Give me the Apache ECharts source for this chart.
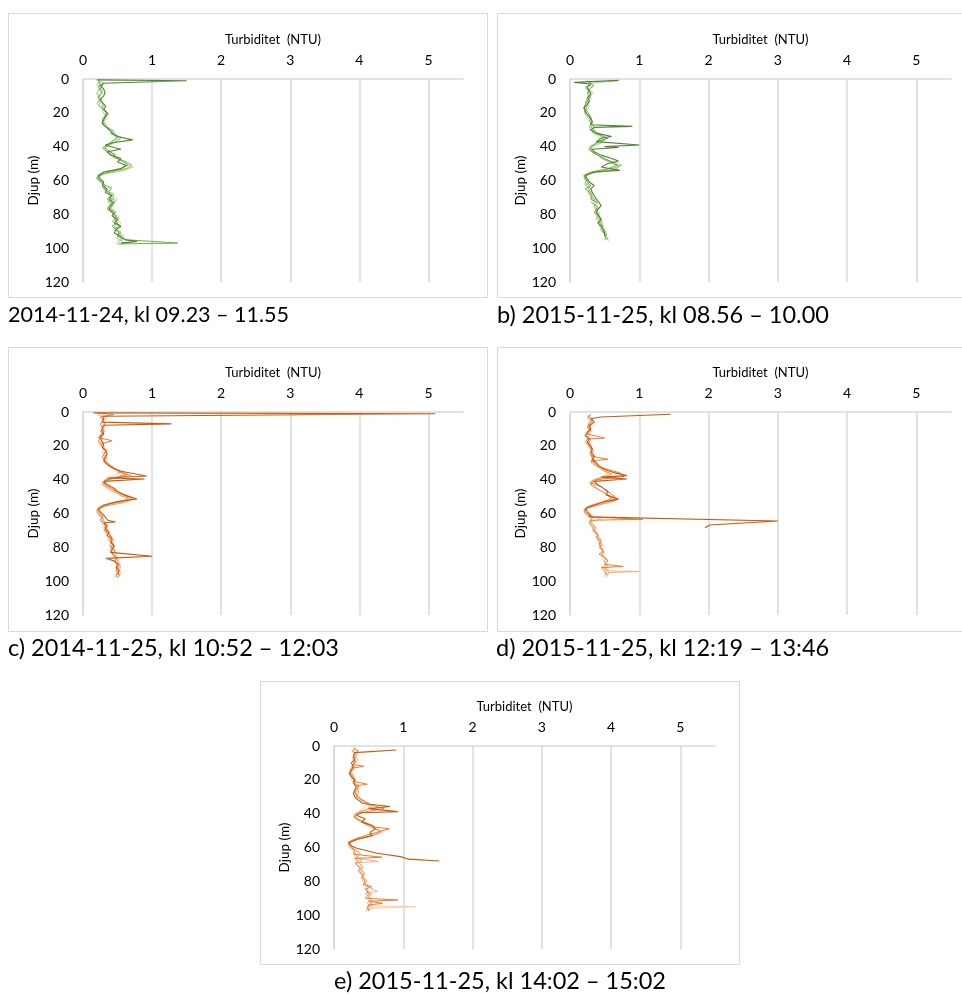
<!DOCTYPE html>
<html>
<head>
<meta charset="utf-8">
<script src="https://cdn.jsdelivr.net/npm/echarts@6/dist/echarts.min.js"></script>
<style>
  html, body { margin: 0; padding: 0; background: #fff; }
  #chart { width: 962px; height: 994px; }
</style>
</head>
<body>
<div id="chart"></div>
<script>
// ---- Data: [turbidity NTU, depth m] per profile ----
// Panel a) 2014-11-24 (green)
const a1 = [[0.2,0.5],[1.5,1],[0.3,2.5],[0.25,4],[0.3,6],[0.32,8],[0.3,10],[0.25,12],[0.28,14],[0.33,16],[0.3,18],[0.35,20],[0.32,22],[0.3,24],[0.28,26],[0.32,28],[0.38,30],[0.42,32],[0.5,34],[0.72,36],[0.45,37.5],[0.32,39],[0.45,40.5],[0.55,41.5],[0.35,43],[0.4,45],[0.55,47],[0.5,49],[0.62,51],[0.55,53],[0.3,55],[0.22,57],[0.25,59],[0.3,61],[0.28,63],[0.35,65],[0.32,67],[0.42,69],[0.38,71],[0.45,73],[0.4,75],[0.38,77],[0.45,79],[0.42,81],[0.5,83],[0.45,85],[0.55,87],[0.48,89],[0.45,91],[0.55,93],[0.6,95],[0.78,96],[0.55,97]];
const a2 = [[0.22,1],[0.25,3],[0.22,5],[0.28,7],[0.25,9],[0.22,11],[0.26,13],[0.3,15],[0.27,17],[0.33,19],[0.36,21],[0.3,23],[0.28,25],[0.3,27],[0.35,29],[0.4,31],[0.45,33],[0.5,35],[0.42,37],[0.35,39],[0.32,41],[0.4,43],[0.45,45],[0.5,47],[0.6,49],[0.65,51],[0.55,53],[0.35,55],[0.25,57],[0.22,59],[0.28,61],[0.32,63],[0.3,65],[0.38,67],[0.4,69],[0.35,71],[0.42,73],[0.38,75],[0.35,77],[0.42,79],[0.48,81],[0.45,83],[0.5,85],[0.42,87],[0.48,89],[0.52,91],[0.5,93],[0.62,95],[1.37,97],[0.5,97.5]];
const a3 = [[0.25,1.5],[0.2,3],[0.24,5],[0.22,7],[0.2,9],[0.25,11],[0.22,13],[0.27,15],[0.3,17],[0.28,19],[0.32,21],[0.35,23],[0.3,25],[0.32,27],[0.38,29],[0.42,31],[0.48,33],[0.55,35],[0.48,37],[0.38,39],[0.3,41],[0.35,43],[0.42,45],[0.5,47],[0.58,49],[0.72,52],[0.6,54],[0.32,56],[0.2,58],[0.22,60],[0.3,62],[0.28,64],[0.35,66],[0.45,68],[0.38,70],[0.48,72],[0.42,74],[0.35,76],[0.4,78],[0.45,80],[0.5,82],[0.42,84],[0.48,86],[0.45,88],[0.52,90],[0.55,92],[0.48,94],[0.58,96],[0.55,98]];
const a4 = [[0.2,2],[0.28,4],[0.25,6],[0.2,8],[0.23,10],[0.27,12],[0.25,14],[0.22,16],[0.3,18],[0.33,20],[0.3,22],[0.27,24],[0.33,26],[0.35,28],[0.4,30],[0.47,32],[0.52,34],[0.45,36],[0.38,38],[0.33,40],[0.3,42],[0.38,44],[0.45,46],[0.55,48],[0.62,50],[0.68,52],[0.58,54],[0.38,55.5],[0.22,57],[0.2,59],[0.25,61],[0.33,63],[0.4,65],[0.35,67],[0.45,69],[0.5,71],[0.4,73],[0.45,75],[0.38,77],[0.42,79],[0.52,81],[0.48,83],[0.55,85],[0.5,87],[0.45,89],[0.5,91],[0.6,93],[0.52,95],[0.48,97]];
const a5 = [[0.23,1],[0.3,2.5],[0.27,4.5],[0.24,6.5],[0.28,8.5],[0.22,10.5],[0.25,12.5],[0.2,14.5],[0.26,16.5],[0.3,18.5],[0.37,20.5],[0.33,22.5],[0.29,24.5],[0.27,26.5],[0.34,28.5],[0.44,30.5],[0.4,32.5],[0.55,34.5],[0.5,36.5],[0.4,38.5],[0.28,40.5],[0.33,42.5],[0.47,44.5],[0.44,46.5],[0.6,48.5],[0.7,50.5],[0.66,52.5],[0.45,54.5],[0.25,56.5],[0.19,58.5],[0.27,60.5],[0.3,62.5],[0.42,64.5],[0.37,66.5],[0.41,68.5],[0.45,70.5],[0.36,72.5],[0.43,74.5],[0.4,76.5],[0.48,78.5],[0.44,80.5],[0.52,82.5],[0.48,84.5],[0.53,86.5],[0.46,88.5],[0.55,90.5],[0.5,92.5],[0.56,94.5],[0.52,96.5]];

// Panel b) 2015-11-25 08.56 (green)
const b1 = [[0.7,0.8],[0.06,2],[0.3,3],[0.25,5],[0.28,7],[0.3,9],[0.25,11],[0.28,13],[0.25,15],[0.2,17],[0.22,19],[0.25,21],[0.3,23],[0.32,25],[0.3,27],[0.9,28],[0.35,28.6],[0.3,30],[0.38,32],[0.6,34],[0.45,35],[0.38,37],[1.0,39],[0.5,40],[0.7,40.5],[0.32,41.5],[0.35,43],[0.45,45],[0.6,47],[0.7,48.5],[0.55,50],[0.45,52],[0.72,54],[0.35,55],[0.22,57],[0.25,59],[0.28,61],[0.35,63],[0.3,65],[0.32,67],[0.35,69],[0.38,71],[0.42,73],[0.45,75],[0.4,77],[0.38,79],[0.42,81],[0.45,83],[0.4,85],[0.45,87],[0.48,89],[0.5,91],[0.5,93]];
const b2 = [[0.25,1],[0.3,3],[0.22,5],[0.27,7],[0.25,9],[0.3,11],[0.25,13],[0.22,15],[0.2,17],[0.25,19],[0.28,21],[0.3,23],[0.28,25],[0.32,27],[0.35,29],[0.32,31],[0.42,33],[0.55,35],[0.4,37],[0.35,39],[0.3,41],[0.32,43],[0.4,45],[0.5,47],[0.6,49],[0.68,51],[0.55,53],[0.3,55],[0.2,57],[0.22,59],[0.25,61],[0.3,63],[0.22,65],[0.28,67],[0.32,69],[0.3,71],[0.4,73],[0.35,75],[0.38,77],[0.35,79],[0.4,81],[0.45,83],[0.42,85],[0.48,87],[0.44,89],[0.5,91],[0.52,93],[0.5,95]];
const b3 = [[0.7,1],[0.3,2.5],[0.35,4],[0.28,6],[0.32,8],[0.27,10],[0.24,12],[0.28,14],[0.22,16],[0.25,18],[0.2,20],[0.24,22],[0.27,24],[0.3,26],[0.28,28],[0.3,30],[0.35,32],[0.45,34],[0.5,36],[0.42,38],[0.3,40],[0.28,42],[0.35,44],[0.45,46],[0.55,48],[0.75,51],[0.6,53],[0.35,55],[0.25,57],[0.2,59],[0.28,61],[0.22,63],[0.3,65],[0.25,67],[0.3,69],[0.35,71],[0.3,73],[0.38,75],[0.42,77],[0.35,79],[0.42,81],[0.38,83],[0.45,85],[0.42,87],[0.5,89],[0.48,91],[0.52,93],[0.55,95]];
const b4 = [[0.3,2],[0.32,4],[0.27,6],[0.33,8],[0.3,10],[0.26,12],[0.25,14],[0.28,16],[0.24,18],[0.22,20],[0.27,22],[0.3,24],[0.33,26],[0.3,28],[0.28,30],[0.33,32],[0.4,34],[0.48,36],[0.45,38],[0.32,40],[0.3,42],[0.38,44],[0.42,46],[0.52,48],[0.62,50],[0.7,52],[0.58,54],[0.28,56],[0.22,58],[0.25,60],[0.2,62],[0.27,64],[0.3,66],[0.28,68],[0.33,70],[0.38,72],[0.35,74],[0.4,76],[0.36,78],[0.44,80],[0.4,82],[0.47,84],[0.43,86],[0.5,88],[0.46,90],[0.5,92],[0.55,94],[0.5,95.5]];
const b5 = [[0.28,1.5],[0.33,3.5],[0.3,5.5],[0.25,7.5],[0.3,9.5],[0.28,11.5],[0.22,13.5],[0.26,15.5],[0.23,17.5],[0.21,19.5],[0.26,21.5],[0.29,23.5],[0.33,25.5],[0.29,27.5],[0.33,29.5],[0.38,31.5],[0.48,33.5],[0.52,35.5],[0.4,37.5],[0.3,39.5],[0.27,41.5],[0.33,43.5],[0.42,45.5],[0.48,47.5],[0.6,49.5],[0.72,51.5],[0.65,53.5],[0.32,55.5],[0.2,57.5],[0.24,59.5],[0.22,61.5],[0.29,63.5],[0.26,65.5],[0.31,67.5],[0.29,69.5],[0.36,71.5],[0.33,73.5],[0.4,75.5],[0.37,77.5],[0.42,79.5],[0.38,81.5],[0.44,83.5],[0.47,85.5],[0.45,87.5],[0.5,89.5],[0.53,91.5],[0.51,93.5],[0.56,95.5]];

// Panel c) 2014-11-25 (orange)
const c1 = [[0.15,0.5],[5.1,1],[0.3,2.5],[0.3,4],[0.28,6],[1.28,7],[0.3,7.8],[0.28,9],[0.27,11],[0.3,13],[0.25,15],[0.27,17],[0.3,19],[0.28,21],[0.33,23],[0.35,25],[0.32,27],[0.3,29],[0.35,31],[0.42,33],[0.55,35],[0.92,37.8],[0.35,39],[0.89,39.6],[0.3,41],[0.35,43],[0.45,45],[0.5,47],[0.6,49],[0.78,51.4],[0.5,53],[0.3,55],[0.22,57],[0.25,59],[0.3,61],[0.36,64],[0.47,65],[0.3,65.5],[0.35,67],[0.32,69],[0.38,71],[0.35,73],[0.42,75],[0.4,77],[0.45,79],[0.42,81],[0.4,83],[1.0,85.3],[0.33,86.5],[0.45,88],[0.5,90],[0.48,92],[0.52,94],[0.5,96]];
const c2 = [[0.2,0.5],[0.45,1.5],[0.25,3],[0.3,5],[0.25,7],[0.28,9],[0.3,11],[0.27,13],[0.22,15],[0.42,17],[0.25,19],[0.3,21],[0.33,23],[0.3,25],[0.28,27],[0.32,29],[0.38,31],[0.45,33],[0.52,35],[0.65,37],[0.5,38.5],[0.32,40],[0.3,42],[0.38,44],[0.45,46],[0.55,48],[0.65,50],[0.62,52],[0.4,54],[0.28,56],[0.2,58],[0.22,60],[0.28,62],[0.25,64],[0.3,66],[0.35,68],[0.3,70],[0.38,72],[0.42,74],[0.38,76],[0.44,78],[0.4,80],[0.47,82],[0.42,84],[0.5,86],[0.46,88],[0.52,90],[0.5,92],[0.48,94],[0.53,96],[0.5,98]];
const c3 = [[0.25,1],[0.35,3],[0.3,5],[0.32,7],[0.3,9],[0.25,11],[0.28,13],[0.26,15],[0.23,17],[0.27,19],[0.32,21],[0.35,23],[0.3,25],[0.35,27],[0.3,29],[0.35,31],[0.42,33],[0.55,35],[0.6,37],[0.45,39],[0.3,41],[0.28,43],[0.35,45],[0.42,47],[0.58,49],[0.7,51],[0.55,53],[0.35,55],[0.22,57],[0.25,59],[0.24,61],[0.3,63],[0.28,65],[0.33,67],[0.3,69],[0.35,71],[0.4,73],[0.35,75],[0.42,77],[0.38,79],[0.45,81],[0.4,83],[0.45,85],[0.52,87],[0.48,89],[0.55,91],[0.5,93],[0.55,95],[0.48,97]];
const c4 = [[0.3,2],[0.28,4],[0.32,6],[0.28,8],[0.3,10],[0.27,12],[0.25,14],[0.28,16],[0.25,18],[0.28,20],[0.3,22],[0.28,24],[0.32,26],[0.35,28],[0.32,30],[0.4,32],[0.48,34],[0.55,36],[0.42,38],[0.35,40],[0.3,42],[0.33,44],[0.4,46],[0.5,48],[0.62,50],[0.68,52],[0.5,54],[0.3,56],[0.25,58],[0.2,60],[0.26,62],[0.3,64],[0.27,66],[0.3,68],[0.35,70],[0.32,72],[0.38,74],[0.45,76],[0.4,78],[0.42,80],[0.38,82],[0.45,84],[0.48,86],[0.45,88],[0.5,90],[0.55,92],[0.5,94],[0.47,96],[0.5,98]];
const c5 = [[0.22,1.5],[0.3,3.5],[0.27,5.5],[0.33,7.5],[0.28,9.5],[0.31,11.5],[0.26,13.5],[0.24,15.5],[0.22,17.5],[0.26,19.5],[0.29,21.5],[0.34,23.5],[0.33,25.5],[0.3,27.5],[0.33,29.5],[0.37,31.5],[0.45,33.5],[0.5,35.5],[0.7,37.5],[0.42,39.5],[0.28,41.5],[0.32,43.5],[0.42,45.5],[0.48,47.5],[0.55,49.5],[0.73,51.5],[0.6,53.5],[0.33,55.5],[0.21,57.5],[0.24,59.5],[0.29,61.5],[0.27,63.5],[0.33,65.5],[0.31,67.5],[0.36,69.5],[0.34,71.5],[0.4,73.5],[0.44,75.5],[0.41,77.5],[0.46,79.5],[0.43,81.5],[0.48,83.5],[0.44,85.5],[0.49,87.5],[0.53,89.5],[0.5,91.5],[0.54,93.5],[0.49,95.5],[0.47,97.5]];

// Panel d) 2015-11-25 12:19 (orange)
const d1 = [[1.45,1.3],[0.45,3],[0.3,4],[0.35,6],[0.28,8],[0.3,10],[0.25,12],[0.22,14],[0.28,16],[0.25,18],[0.3,20],[0.32,22],[0.3,24],[0.35,26],[0.32,28],[0.38,30],[0.42,32],[0.5,34],[0.65,36],[0.82,37.6],[0.45,38.5],[0.82,39.6],[0.35,41],[0.4,43],[0.48,45],[0.55,47],[0.52,49],[0.7,51.5],[0.5,53],[0.35,55],[0.22,57],[0.25,59],[0.3,61],[0.27,62],[3.0,64.4],[2.02,66.8],[1.95,68.4]];
const d2 = [[0.3,1.5],[0.25,3],[0.3,5],[0.27,7],[0.25,9],[0.3,11],[0.25,13],[0.5,15.4],[0.25,16],[0.22,18],[0.27,20],[0.3,22],[0.32,24],[0.3,26],[0.55,28],[0.3,28.8],[0.35,30],[0.4,32],[0.55,34],[0.72,36],[0.78,38],[0.4,40],[0.3,42],[0.45,44],[0.5,46],[0.58,48],[0.65,50],[0.55,52],[0.4,54],[0.25,56],[0.2,58],[0.22,60],[0.3,62],[1.05,63.4],[0.3,64],[0.28,66],[0.32,68],[0.35,70],[0.4,72],[0.38,74],[0.45,76],[0.42,78],[0.45,80],[0.48,82],[0.42,84],[0.5,86],[0.55,88],[0.5,90],[0.77,91.3],[0.45,92],[0.5,94],[0.52,96]];
const d3 = [[0.25,2],[0.3,4],[0.35,6],[0.3,8],[0.28,10],[0.25,12],[0.22,14],[0.25,16],[0.28,18],[0.3,20],[0.33,22],[0.28,24],[0.3,26],[0.35,28],[0.3,30],[0.38,32],[0.45,34],[0.55,36],[0.48,38],[0.35,40],[0.28,42],[0.32,44],[0.42,46],[0.5,48],[0.6,50],[0.68,52],[0.5,54],[0.3,56],[0.2,58],[0.25,60],[0.35,62],[0.28,64],[0.3,66],[0.35,68],[0.32,70],[0.38,72],[0.42,74],[0.4,76],[0.45,78],[0.42,80],[0.48,82],[0.45,84],[0.5,86],[0.55,88],[0.5,90],[0.48,92],[0.6,94],[1.0,94.3],[0.55,95],[0.52,97.8]];
const d4 = [[0.3,1],[0.28,3],[0.32,5],[0.3,7],[0.27,9],[0.32,11],[0.28,13],[0.25,15],[0.27,17],[0.3,19],[0.28,21],[0.32,23],[0.35,25],[0.3,27],[0.33,29],[0.4,31],[0.45,33],[0.5,35],[0.6,37],[0.42,39],[0.3,41],[0.35,43],[0.38,45],[0.48,47],[0.55,49],[0.6,51],[0.62,53],[0.4,55],[0.25,57],[0.22,59],[0.3,61],[0.45,63],[0.3,65],[0.35,67],[0.4,69],[0.35,71],[0.4,73],[0.45,75],[0.4,77],[0.48,79],[0.45,81],[0.5,83],[0.45,85],[0.48,87],[0.52,89],[0.55,91],[0.5,93],[0.53,95],[0.5,97]];
const d5 = [[0.27,2.5],[0.33,4.5],[0.3,6.5],[0.26,8.5],[0.29,10.5],[0.24,12.5],[0.27,14.5],[0.3,16.5],[0.26,18.5],[0.29,20.5],[0.34,22.5],[0.31,24.5],[0.36,26.5],[0.33,28.5],[0.35,30.5],[0.42,32.5],[0.48,34.5],[0.6,36.5],[0.5,38.5],[0.33,40.5],[0.3,42.5],[0.36,44.5],[0.44,46.5],[0.52,48.5],[0.58,50.5],[0.64,52.5],[0.45,54.5],[0.28,56.5],[0.21,58.5],[0.26,60.5],[0.32,62.5],[0.29,64.5],[0.33,66.5],[0.37,68.5],[0.34,70.5],[0.41,72.5],[0.38,74.5],[0.44,76.5],[0.46,78.5],[0.43,80.5],[0.49,82.5],[0.47,84.5],[0.52,86.5],[0.49,88.5],[0.53,90.5],[0.5,92.5],[0.56,94.5],[0.54,96.5]];

// Panel e) 2015-11-25 14:02 (orange)
const e1 = [[0.9,2.4],[0.3,3.9],[0.28,6],[0.3,8],[0.25,10],[0.28,12],[0.25,14],[0.22,16],[0.25,18],[0.3,20],[0.28,22],[0.32,24],[0.3,26],[0.28,28],[0.3,30],[0.35,32],[0.42,34],[0.81,35.8],[0.5,37],[0.92,38.8],[0.4,39.5],[0.32,41],[0.45,43],[0.4,45],[0.55,47],[0.6,49],[0.52,51],[0.55,53],[0.35,55],[0.22,57],[0.25,59],[0.33,60.4],[0.62,63.4],[0.96,65.4],[1.08,66.9],[1.52,68]];
const e2 = [[0.28,1],[0.35,3],[0.3,5],[0.27,7],[0.3,9],[0.28,11],[0.43,12],[0.27,13],[0.25,15],[0.22,17],[0.27,19],[0.3,21],[0.48,22.6],[0.32,23.5],[0.35,25],[0.3,27],[0.32,29],[0.38,31],[0.45,33],[0.55,35],[0.72,37],[0.5,38.5],[0.35,40],[0.3,42],[0.38,44],[0.5,46],[0.6,48],[0.8,49],[0.62,51],[0.45,53],[0.3,55],[0.2,57],[0.18,58],[0.25,60],[0.3,62],[0.28,64],[0.69,65.7],[0.3,66.5],[0.35,68],[0.32,70],[0.38,72],[0.35,74],[0.42,76],[0.4,78],[0.45,80],[0.42,82],[0.55,83],[0.45,84.5],[0.48,86],[0.5,88],[0.45,90],[0.92,91],[0.5,91.8],[0.7,93],[0.5,94],[0.48,96],[0.5,97.5]];
const e3 = [[0.25,2],[0.3,4],[0.28,6],[0.35,8],[0.3,10],[0.25,12],[0.23,14],[0.25,16],[0.28,18],[0.25,20],[0.3,22],[0.35,24],[0.3,26],[0.33,28],[0.35,30],[0.4,32],[0.5,34],[0.55,36],[0.45,38],[0.3,40],[0.28,42],[0.35,44],[0.45,46],[0.55,48],[0.68,50],[0.62,52],[0.45,54],[0.25,56],[0.2,58],[0.22,60],[0.28,62],[0.32,64],[0.3,66],[0.64,68.3],[0.3,69],[0.35,71],[0.4,73],[0.38,75],[0.42,77],[0.4,79],[0.45,81],[0.48,83],[0.63,86],[0.45,87],[0.5,89],[0.52,91],[0.48,93],[0.55,95],[0.5,97]];
const e4 = [[0.3,1],[0.32,3],[0.35,5],[0.3,7],[0.28,9],[0.3,11],[0.27,13],[0.25,15],[0.28,17],[0.3,19],[0.27,21],[0.33,23],[0.38,25],[0.32,27],[0.3,29],[0.35,31],[0.42,33],[0.48,35],[0.42,37],[0.35,39],[0.3,41],[0.32,43],[0.4,45],[0.48,47],[0.58,49],[0.7,51],[0.55,53],[0.35,55],[0.25,57],[0.22,59],[0.3,61],[0.35,63],[0.32,65],[0.38,67],[0.35,69],[0.4,71],[0.38,73],[0.45,75],[0.42,77],[0.45,79],[0.5,81],[0.45,83],[0.48,85],[0.52,87],[0.55,89],[0.5,91],[0.55,93],[0.48,94.5],[1.18,95],[0.5,96],[0.45,98]];
const e5 = [[0.3,1.5],[0.27,3.5],[0.33,5.5],[0.29,7.5],[0.32,9.5],[0.26,11.5],[0.29,13.5],[0.24,15.5],[0.26,17.5],[0.31,19.5],[0.29,21.5],[0.36,23.5],[0.33,25.5],[0.36,27.5],[0.32,29.5],[0.38,31.5],[0.46,33.5],[0.52,35.5],[0.48,37.5],[0.33,39.5],[0.29,41.5],[0.34,43.5],[0.43,45.5],[0.52,47.5],[0.63,49.5],[0.66,51.5],[0.5,53.5],[0.3,55.5],[0.21,57.5],[0.25,59.5],[0.31,61.5],[0.38,63.5],[0.34,65.5],[0.4,67.5],[0.37,69.5],[0.42,71.5],[0.39,73.5],[0.44,75.5],[0.41,77.5],[0.47,79.5],[0.44,81.5],[0.5,83.5],[0.47,85.5],[0.53,87.5],[0.5,89.5],[0.55,91.5],[0.52,93.5],[0.49,95.5],[0.51,97.5]];

// ---- Labels ----
const xTicks = [0, 1, 2, 3, 4, 5];
const yTicks = [0, 20, 40, 60, 80, 100, 120];
const xTitle = "Turbiditet  (NTU)";
const yTitle = "Djup (m)";
const captions = [
    "2014-11-24, kl 09.23 – 11.55",
    "b) 2015-11-25, kl 08.56 – 10.00",
    "c) 2014-11-25, kl 10:52 – 12:03",
    "d) 2015-11-25, kl 12:19 – 13:46",
    "e) 2015-11-25, kl 14:02 – 15:02"
];

(function (window, document) {
    "use strict";

    const FONT = "Lato, 'Open Sans', sans-serif";
    const GRID_GREY = "#d9d9d9";

    // light -> dark, darkest drawn last so it sits on top
    const GREENS = ["#c5e0b4", "#a9d18e", "#8cc068", "#70ad47", "#548235"];
    const ORANGES = ["#f8cbad", "#f4b183", "#f09a5c", "#ed7d31", "#c55a11"];

    // panel frames and plot areas, in px
    const PANELS = [
        { frame: [8, 13, 479, 284], plot: [83, 79, 380, 203], caption: [8, 315, "left", 21.5], colors: GREENS, lines: [a4, a3, a5, a2, a1] },
        { frame: [497, 13, 475, 284], plot: [570, 79, 381, 203], caption: [497, 315, "left", 23.5], colors: GREENS, lines: [b4, b3, b5, b2, b1] },
        { frame: [8, 347, 479, 284], plot: [83, 412, 380, 203], caption: [8, 648, "left", 23.5], colors: ORANGES, lines: [c4, c3, c5, c2, c1] },
        { frame: [497, 347, 475, 284], plot: [570, 412, 381, 203], caption: [496, 648, "left", 23.5], colors: ORANGES, lines: [d4, d3, d5, d2, d1] },
        { frame: [260, 681, 479, 283], plot: [334, 746, 381, 203], caption: [500, 981, "center", 23.5], colors: ORANGES, lines: [e4, e3, e5, e2, e1] }
    ];

    function buildOption() {
        const grid = [], xAxis = [], yAxis = [], series = [], graphic = [];

        PANELS.forEach((p, i) => {
            const [l, t, w, h] = p.plot;
            grid.push({ left: l, top: t, width: w, height: h, containLabel: false });

            xAxis.push({
                gridIndex: i, type: "value", position: "top",
                min: 0, max: 5.5, interval: 1,
                name: xTitle, nameLocation: "middle", nameGap: 33,
                nameTextStyle: { fontFamily: FONT, fontSize: 13, color: "#000" },
                axisLine: { show: true, lineStyle: { color: GRID_GREY, width: 1.5 } },
                axisTick: { show: false },
                axisLabel: {
                    fontFamily: FONT, fontSize: 14, color: "#000", margin: 12,
                    formatter: v => (xTicks.includes(v) ? String(v) : "")
                },
                splitLine: { show: true, showMaxLine: false, lineStyle: { color: GRID_GREY, width: 1.5 } }
            });

            yAxis.push({
                gridIndex: i, type: "value", inverse: true,
                min: 0, max: 120, interval: 20,
                name: yTitle, nameLocation: "middle", nameGap: 41, nameRotate: 90,
                nameTextStyle: { fontFamily: FONT, fontSize: 13.5, color: "#000" },
                axisLine: { show: true, lineStyle: { color: GRID_GREY, width: 1.5 } },
                axisTick: { show: false },
                axisLabel: {
                    fontFamily: FONT, fontSize: 14, color: "#000", margin: 14,
                    formatter: v => (yTicks.includes(v) ? String(v) : "")
                },
                splitLine: { show: false }
            });

            p.lines.forEach((data, k) => {
                series.push({
                    type: "line", xAxisIndex: i, yAxisIndex: i,
                    data, showSymbol: false, symbol: "none",
                    lineStyle: { color: p.colors[k], width: k === p.lines.length - 1 ? 1.1 : 1 },
                    silent: true, z: 2 + k
                });
            });

            const [fx, fy, fw, fh] = p.frame;
            graphic.push({
                type: "rect", silent: true, z: 0,
                shape: { x: fx + 0.5, y: fy + 0.5, width: fw, height: fh },
                style: { fill: "none", stroke: GRID_GREY, lineWidth: 1 }
            });

            const [cx, cy, align, size] = p.caption;
            graphic.push({
                type: "text", silent: true, x: cx, y: cy,
                style: {
                    text: captions[i], fontFamily: FONT, fontSize: size, fill: "#000",
                    align, verticalAlign: "middle"
                }
            });
        });

        return { animation: false, backgroundColor: "#fff", grid, xAxis, yAxis, series, graphic };
    }

    function init() {
        const el = document.getElementById("chart");
        const chart = echarts.init(el, null, { renderer: "canvas" });
        chart.setOption(buildOption());
        window.addEventListener("resize", () => chart.resize());
    }

    init();
})(window, document);
</script>
</body>
</html>
